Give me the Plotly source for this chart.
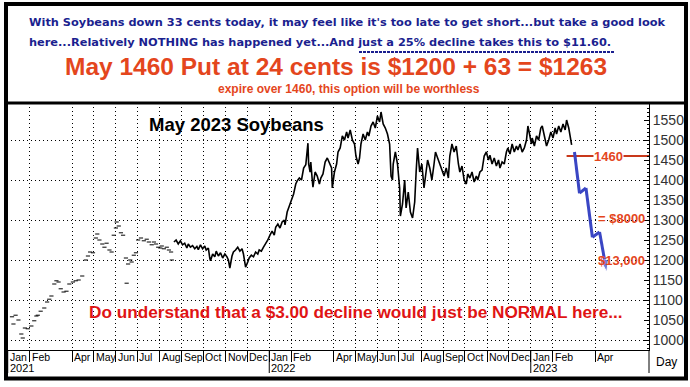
import plotly.graph_objects as go
import pandas as pd

# ---------------- data ----------------
sparse_dates = ["2021-01-07","2021-01-09","2021-01-12","2021-01-16","2021-01-20","2021-01-22","2021-01-25","2021-01-29",
    "2021-02-03","2021-02-07","2021-02-10","2021-02-12","2021-02-16","2021-02-21","2021-02-25","2021-02-28",
    "2021-03-03","2021-03-07","2021-03-10","2021-03-13","2021-03-16","2021-03-20","2021-03-24","2021-03-28",
    "2021-04-02","2021-04-06","2021-04-10","2021-04-15","2021-04-20","2021-04-23","2021-04-26","2021-04-30",
    "2021-05-04","2021-05-06","2021-05-09","2021-05-13","2021-05-16","2021-05-19","2021-05-23","2021-05-26","2021-05-29",
    "2021-06-01","2021-06-02","2021-06-05","2021-06-08","2021-06-11","2021-06-15","2021-06-16","2021-06-18","2021-06-21",
    "2021-06-23","2021-06-26","2021-06-29","2021-07-02","2021-07-06","2021-07-10","2021-07-14","2021-07-17","2021-07-21",
    "2021-07-24","2021-07-27","2021-07-30","2021-08-02","2021-08-04","2021-08-07","2021-08-11","2021-08-14","2021-08-17","2021-08-18"]
sparse_prices = [1058,1040,1062,1050,1015,1005,1030,1028,
    1035,1048,1060,1062,1072,1080,1095,1102,
    1110,1140,1148,1145,1128,1120,1122,1140,
    1145,1148,1150,1160,1200,1210,1220,1218,
    1255,1265,1250,1240,1232,1242,1225,1220,1262,
    1280,1295,1285,1268,1262,1205,1142,1190,1200,
    1195,1212,1218,1250,1255,1248,1252,1245,1238,
    1245,1240,1232,1230,1235,1228,1232,1225,1220,1200]

line_dates = ["2021-08-21","2021-08-24","2021-08-27","2021-08-30","2021-09-02","2021-09-05","2021-09-08","2021-09-10",
    "2021-09-13","2021-09-16","2021-09-19","2021-09-22","2021-09-24","2021-09-27","2021-09-30","2021-10-03","2021-10-05",
    "2021-10-08","2021-10-10","2021-10-11","2021-10-14","2021-10-17","2021-10-19","2021-10-22","2021-10-25","2021-10-28",
    "2021-10-31","2021-11-03","2021-11-05","2021-11-07","2021-11-10","2021-11-12","2021-11-15","2021-11-18","2021-11-21",
    "2021-11-24","2021-11-26","2021-11-28","2021-11-29","2021-12-02","2021-12-04","2021-12-07","2021-12-10","2021-12-13",
    "2021-12-16","2021-12-18","2021-12-21","2021-12-24","2021-12-27","2021-12-30",
    "2022-01-02","2022-01-05","2022-01-08","2022-01-10","2022-01-13","2022-01-16","2022-01-19","2022-01-22","2022-01-23",
    "2022-01-26","2022-01-29","2022-02-01","2022-02-04","2022-02-07","2022-02-09","2022-02-12","2022-02-15","2022-02-18",
    "2022-02-21","2022-02-24","2022-02-25","2022-02-27","2022-02-28","2022-03-02","2022-03-03","2022-03-06","2022-03-09",
    "2022-03-12","2022-03-14","2022-03-17","2022-03-20","2022-03-23","2022-03-26","2022-03-29","2022-03-30","2022-04-02",
    "2022-04-05","2022-04-07","2022-04-10","2022-04-13","2022-04-16","2022-04-19","2022-04-21","2022-04-24","2022-04-27",
    "2022-04-30","2022-05-02","2022-05-05","2022-05-07","2022-05-09","2022-05-12","2022-05-15","2022-05-18","2022-05-20",
    "2022-05-23","2022-05-26","2022-05-29","2022-06-01","2022-06-04","2022-06-06","2022-06-09","2022-06-12","2022-06-15",
    "2022-06-18","2022-06-20","2022-06-22","2022-06-23","2022-06-26","2022-06-29","2022-07-02","2022-07-03","2022-07-06",
    "2022-07-09","2022-07-11","2022-07-14","2022-07-17","2022-07-20","2022-07-23","2022-07-25","2022-07-27","2022-07-30",
    "2022-08-02","2022-08-05","2022-08-07","2022-08-10","2022-08-13","2022-08-16","2022-08-19","2022-08-21","2022-08-24",
    "2022-08-27","2022-08-30","2022-09-02","2022-09-05","2022-09-08","2022-09-10","2022-09-13","2022-09-16","2022-09-19",
    "2022-09-22","2022-09-24","2022-09-27","2022-09-30","2022-10-03","2022-10-05","2022-10-08","2022-10-11","2022-10-14",
    "2022-10-17","2022-10-19","2022-10-22","2022-10-25","2022-10-28","2022-10-31","2022-11-03","2022-11-05","2022-11-08",
    "2022-11-11","2022-11-14","2022-11-17","2022-11-19","2022-11-22","2022-11-25","2022-11-28","2022-11-30","2022-12-03",
    "2022-12-06","2022-12-09","2022-12-12","2022-12-14","2022-12-17","2022-12-20","2022-12-23","2022-12-26","2022-12-28",
    "2023-01-02","2023-01-03","2023-01-06","2023-01-09","2023-01-12","2023-01-15","2023-01-17","2023-01-20","2023-01-23",
    "2023-01-26","2023-01-29","2023-02-01","2023-02-04","2023-02-06","2023-02-09","2023-02-12","2023-02-15","2023-02-18",
    "2023-02-20","2023-02-23","2023-02-26","2023-02-27"]
line_prices = [1245,1250,1240,1248,1238,1242,1230,1240,
    1232,1236,1228,1234,1226,1238,1228,1235,1225,
    1230,1205,1198,1215,1208,1222,1210,1218,1205,
    1215,1208,1200,1180,1210,1220,1225,1232,1222,
    1228,1215,1195,1182,1195,1205,1212,1208,1220,
    1215,1225,1222,1232,1240,1250,
    1262,1272,1262,1282,1290,1280,1295,1300,1288,
    1320,1335,1350,1365,1390,1398,1405,1400,1430,
    1438,1492,1440,1420,1445,1400,1382,1420,1410,
    1390,1405,1415,1445,1455,1440,1430,1380,1420,
    1440,1470,1480,1510,1500,1520,1505,1525,1500,
    1490,1460,1440,1455,1490,1515,1500,1520,1510,
    1535,1545,1530,1560,1545,1570,1540,1530,1515,
    1490,1410,1400,1440,1470,1440,1380,1310,1340,
    1400,1330,1370,1320,1305,1345,1420,1480,1420,
    1440,1380,1410,1450,1430,1400,1440,1470,1455,
    1440,1425,1410,1430,1405,1460,1490,1470,1485,
    1440,1420,1435,1400,1390,1415,1405,1420,1395,
    1410,1400,1420,1425,1460,1470,1450,1462,1440,
    1455,1435,1450,1430,1445,1440,1470,1480,1465,
    1490,1470,1485,1475,1490,1470,1480,1500,1535,
    1490,1505,1485,1510,1500,1530,1535,1505,1485,
    1500,1520,1505,1530,1515,1535,1520,1540,1525,
    1550,1530,1505,1488]

proj_dates = ["2023-03-03","2023-03-10","2023-03-19","2023-03-28","2023-04-07","2023-04-17"]
proj_prices = [1470,1367,1380,1257,1270,1170]

strike_dates = ["2023-02-20","2023-06-15"]
strike_prices = [1460,1460]

y_tick_vals = list(range(1000, 1551, 50))
y_grid_vals = list(range(1000, 1501, 100))

month_starts = [d for d in pd.date_range("2021-01-01", "2023-04-01", freq="MS") if d.month != 3]
year_starts = ["2021-01-01", "2022-01-01", "2023-01-01"]

# ---------------- layout helpers (pixel -> paper) ----------------
W, H = 690, 387
PL, PR, PT, PB = 7, 649, 103, 350
def px(x): return (x - PL) / (PR - PL)
def py(y): return (PB - y) / (PB - PT)

FONT = "Liberation Sans, Arial, sans-serif"
HFONT = "DejaVu Sans, Verdana, sans-serif"
NAVY = "#1b1f8f"
ORANGE = "#e4461d"
RED = "#e01414"

fig = go.Figure()
fig.add_trace(go.Scatter(x=sparse_dates, y=sparse_prices, mode="markers",
    marker=dict(symbol="line-ew", size=3, line=dict(color="black", width=1)),
    hoverinfo="skip", showlegend=False))
fig.add_trace(go.Scatter(x=line_dates, y=line_prices, mode="lines",
    line=dict(color="black", width=1.6), showlegend=False))
fig.add_trace(go.Scatter(x=strike_dates, y=strike_prices, mode="lines",
    line=dict(color="#c8381a", width=2), showlegend=False))
fig.add_trace(go.Scatter(x=proj_dates, y=proj_prices, mode="lines+markers",
    line=dict(color="#3a46c4", width=3),
    marker=dict(symbol=["circle"]*(len(proj_dates)-1) + ["arrow"],
                size=[0]*(len(proj_dates)-1) + [13], angleref="previous", color="#3a46c4"),
    showlegend=False))
# helper trace for horizontal grid every 100
fig.add_trace(go.Scatter(x=[None], y=[None], yaxis="y2", showlegend=False))

fig.update_layout(
    width=W, height=H,
    margin=dict(l=PL, r=W - PR, t=PT, b=H - PB),
    paper_bgcolor="white", plot_bgcolor="white",
    showlegend=False,
    xaxis=dict(type="date", range=["2020-12-31", "2023-06-15"],
               tickvals=month_starts, showticklabels=False,
               ticks="outside", ticklen=11, tickcolor="black", tickwidth=1,
               showgrid=True, gridcolor="black", gridwidth=1, griddash="1px,3px",
               showline=True, linecolor="black", linewidth=1, zeroline=False),
    yaxis=dict(range=[975, 1592.5], side="right", tickvals=y_tick_vals,
               ticks="inside", ticklen=5, tickcolor="black",
               minor=dict(dtick=10, ticks="inside", ticklen=2, tickcolor="black", showgrid=False),
               showgrid=False, showline=True, linecolor="black", linewidth=1, zeroline=False,
               tickfont=dict(family=FONT, size=14, color="#333333")),
    yaxis2=dict(range=[975, 1592.5], overlaying="y", tickvals=y_grid_vals, showticklabels=False,
                showgrid=True, gridcolor="black", gridwidth=1, griddash="1px,3px", zeroline=False),
)

shapes = []
shapes.append(dict(type="rect", xref="paper", yref="paper", x0=px(6), x1=px(686), y0=py(378.5), y1=py(4),
                   line=dict(color="black", width=4), fillcolor="rgba(0,0,0,0)", layer="above"))
shapes.append(dict(type="line", xref="paper", yref="paper", x0=px(6), x1=px(686), y0=py(103), y1=py(103),
                   line=dict(color="black", width=3), layer="above"))
for ys in year_starts:
    shapes.append(dict(type="line", xref="x", yref="paper", x0=ys, x1=ys, y0=0, y1=py(373),
                       line=dict(color="black", width=1)))
shapes.append(dict(type="line", xref="paper", yref="paper", x0=1, x1=1, y0=0, y1=py(373),
                   line=dict(color="black", width=1)))
shapes.append(dict(type="line", xref="paper", yref="paper", x0=px(359), x1=px(614), y0=py(52), y1=py(52),
                   line=dict(color=NAVY, width=2, dash="3px,1px")))
fig.update_layout(shapes=shapes)

ann = []
def txt(x, y, text, size, color, xanchor="center", bold=True, family=FONT):
    ann.append(dict(xref="paper", yref="paper", x=px(x), y=py(y), text=("<b>%s</b>" % text) if bold else text,
                    showarrow=False, xanchor=xanchor, yanchor="middle",
                    font=dict(family=family, size=size, color=color)))

txt(27, 22, "With Soybeans down 33 cents today, it may feel like it's too late to get short...but take a good look", 11.35, NAVY, "left", family=HFONT)
txt(27, 42, "here...Relatively NOTHING has happened yet...And just a 25% decline takes this to $11.60.", 11.35, NAVY, "left", family=HFONT)
txt(336, 66, "May 1460 Put at 24 cents is $1200 + 63 = $1263", 24.5, ORANGE)
txt(349, 89, "expire over 1460, this option will be worthless", 12, ORANGE)
txt(236, 125, "May 2023 Soybeans", 18.5, "black")
txt(356, 312, "Do understand that a $3.00 decline would just be NORMAL here...", 17.2, RED)
txt(667, 362, "Day", 12, "black", bold=False)

for d in month_starts:
    ann.append(dict(xref="x", yref="paper", x=d, y=py(356.5), text=d.strftime("%b"), showarrow=False,
                    xanchor="left", yanchor="middle", xshift=0,
                    font=dict(family=FONT, size=10.5, color="black")))
for ys in year_starts:
    ann.append(dict(xref="x", yref="paper", x=ys, y=py(367.5), text=ys[:4], showarrow=False,
                    xanchor="left", yanchor="middle", xshift=0,
                    font=dict(family=FONT, size=11, color="black")))

ann.append(dict(x="2023-04-20", y=1460, xref="x", yref="y", text="<b>1460</b>", showarrow=False,
                bgcolor="white", borderpad=0, font=dict(family=FONT, size=13, color=ORANGE)))
ann.append(dict(x="2023-05-08", y=1305, xref="x", yref="y", text="<b>= $8000</b>", showarrow=False,
                font=dict(family=FONT, size=13, color=ORANGE)))
ann.append(dict(x="2023-05-08", y=1200, xref="x", yref="y", text="<b>$13,000</b>", showarrow=False,
                font=dict(family=FONT, size=13, color=ORANGE)))
fig.update_layout(annotations=ann)

fig.write_html("out.html", config={"displayModeBar": False},
               post_script="document.body.style.margin='0';document.body.style.overflow='hidden';")
